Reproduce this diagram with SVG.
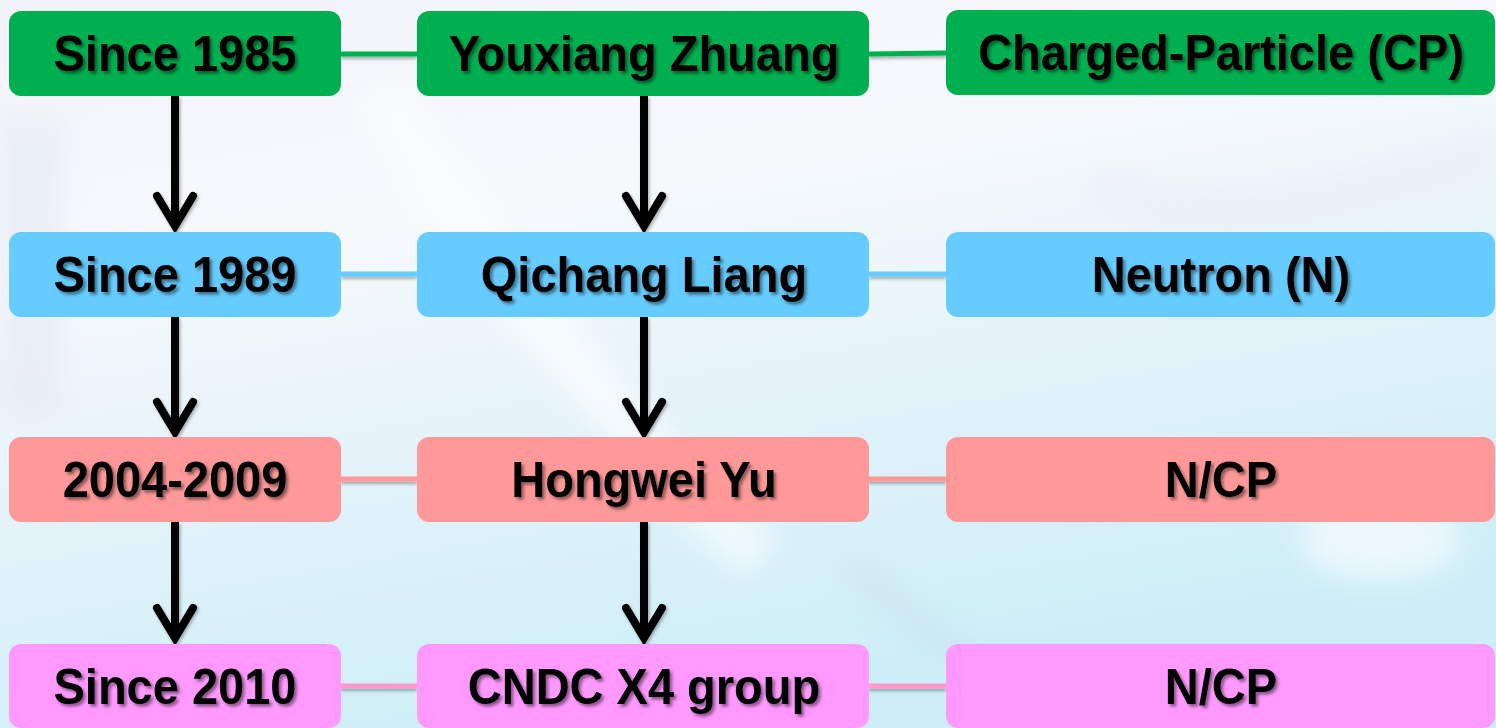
<svg xmlns="http://www.w3.org/2000/svg" width="1496" height="728" viewBox="0 0 1496 728">
<defs>
<linearGradient id="bg" x1="0" y1="0" x2="0.35" y2="1">
<stop offset="0" stop-color="#f1f3f9"/>
<stop offset="0.35" stop-color="#f6f9fc"/>
<stop offset="0.7" stop-color="#e0f2f9"/>
<stop offset="1" stop-color="#cdeef7"/>
</linearGradient>
<filter id="blur" x="-20%" y="-20%" width="140%" height="140%"><feGaussianBlur stdDeviation="14"/></filter>
<filter id="tsh" x="-10%" y="-20%" width="120%" height="150%"><feDropShadow dx="2.5" dy="2.5" stdDeviation="1.6" flood-color="#000" flood-opacity="0.45"/></filter>
<filter id="lsh" filterUnits="userSpaceOnUse" x="0" y="0" width="1496" height="728"><feDropShadow dx="0" dy="2.5" stdDeviation="1.5" flood-color="#000" flood-opacity="0.3"/></filter>
<filter id="ash" filterUnits="userSpaceOnUse" x="0" y="0" width="1496" height="728"><feDropShadow dx="1.5" dy="2" stdDeviation="1.5" flood-color="#000" flood-opacity="0.3"/></filter>
<marker id="chev" viewBox="0 0 40 44" refX="36" refY="22" markerWidth="40" markerHeight="44" markerUnits="userSpaceOnUse" orient="auto" overflow="visible">
<path d="M6,4 L36,22 L6,40" fill="none" stroke="#000" stroke-width="8" stroke-linecap="round" stroke-linejoin="miter" stroke-miterlimit="10"/>
</marker>
</defs>
<style>
.t{font-family:"Liberation Sans",Arial,sans-serif;font-weight:bold;font-size:47px;fill:#000;text-anchor:middle;filter:url(#tsh)}
.g{fill:#00B050}.b{fill:#66CCFF}.r{fill:#FF9999}.p{fill:#FF99FF}
.c{stroke-width:5;fill:none;filter:url(#lsh)}
.ar{stroke:#000;stroke-width:8;fill:none;filter:url(#ash)}
</style>
<rect width="1496" height="728" fill="url(#bg)"/>
<g opacity="0.6" filter="url(#blur)">
<path d="M380,90 Q520,330 760,560" stroke="#ffffff" stroke-width="50" fill="none"/>
<path d="M850,560 Q980,700 1120,700" stroke="#c9dceb" stroke-width="18" fill="none"/>
<path d="M1100,180 Q1200,260 1496,150" stroke="#e6ebf4" stroke-width="30" fill="none"/>
<ellipse cx="1380" cy="540" rx="80" ry="40" fill="#ffffff"/>
<path d="M30,120 L30,420" stroke="#e3e7f3" stroke-width="60" fill="none"/>
</g>

<g id="connectors">
<line class="c" x1="341" y1="54" x2="417" y2="54" stroke="#00B050"/>
<line class="c" x1="869" y1="54" x2="946" y2="53" stroke="#00B050"/>
<line class="c" x1="341" y1="274" x2="417" y2="274" stroke="#66CCFF"/>
<line class="c" x1="869" y1="274" x2="946" y2="274" stroke="#66CCFF"/>
<line class="c" x1="341" y1="479" x2="417" y2="479" stroke="#FF9999"/>
<line class="c" x1="869" y1="479" x2="946" y2="479" stroke="#FF9999"/>
<line class="c" x1="341" y1="686" x2="417" y2="686" stroke="#FF99CC"/>
<line class="c" x1="869" y1="686" x2="946" y2="686" stroke="#FF99CC"/>
<line class="ar" x1="175" y1="96" x2="175" y2="226" marker-end="url(#chev)"/>
<line class="ar" x1="644" y1="96" x2="644" y2="226" marker-end="url(#chev)"/>
<line class="ar" x1="175" y1="317" x2="175" y2="432" marker-end="url(#chev)"/>
<line class="ar" x1="644" y1="317" x2="644" y2="432" marker-end="url(#chev)"/>
<line class="ar" x1="175" y1="522" x2="175" y2="638" marker-end="url(#chev)"/>
<line class="ar" x1="644" y1="522" x2="644" y2="638" marker-end="url(#chev)"/>
</g>

<g id="n-since1985"><rect class="g" x="9" y="11" width="332" height="85" rx="12"/><text class="t" x="175" y="71" transform="translate(0,71) scale(1,1.06) translate(0,-71)">Since 1985</text></g>
<g id="n-zhuang"><rect class="g" x="417" y="11" width="452" height="85" rx="12"/><text class="t" x="644" y="71" transform="translate(0,71) scale(1,1.06) translate(0,-71)">Youxiang Zhuang</text></g>
<g id="n-cp"><rect class="g" x="946" y="10" width="549" height="85" rx="12"/><text class="t" x="1221" y="70" transform="translate(0,70) scale(1,1.06) translate(0,-70)">Charged-Particle (CP)</text></g>

<g id="n-since1989"><rect class="b" x="9" y="232" width="332" height="85" rx="12"/><text class="t" x="175" y="292" transform="translate(0,292) scale(1,1.06) translate(0,-292)">Since 1989</text></g>
<g id="n-liang"><rect class="b" x="417" y="232" width="452" height="85" rx="12"/><text class="t" x="644" y="292" transform="translate(0,292) scale(1,1.06) translate(0,-292)">Qichang Liang</text></g>
<g id="n-neutron"><rect class="b" x="946" y="232" width="549" height="85" rx="12"/><text class="t" x="1221" y="292" transform="translate(0,292) scale(1,1.06) translate(0,-292)">Neutron (N)</text></g>

<g id="n-2004"><rect class="r" x="9" y="437" width="332" height="85" rx="12"/><text class="t" x="175" y="497" transform="translate(0,497) scale(1,1.06) translate(0,-497)">2004-2009</text></g>
<g id="n-yu"><rect class="r" x="417" y="437" width="452" height="85" rx="12"/><text class="t" x="644" y="497" transform="translate(0,497) scale(1,1.06) translate(0,-497)">Hongwei Yu</text></g>
<g id="n-ncp1"><rect class="r" x="946" y="437" width="549" height="85" rx="12"/><text class="t" x="1221" y="497" transform="translate(0,497) scale(1,1.06) translate(0,-497)">N/CP</text></g>

<g id="n-since2010"><rect class="p" x="9" y="644" width="332" height="84" rx="12"/><text class="t" x="175" y="704" transform="translate(0,704) scale(1,1.06) translate(0,-704)">Since 2010</text></g>
<g id="n-cndc"><rect class="p" x="417" y="644" width="452" height="84" rx="12"/><text class="t" x="644" y="704" transform="translate(0,704) scale(1,1.06) translate(0,-704)">CNDC X4 group</text></g>
<g id="n-ncp2"><rect class="p" x="946" y="644" width="549" height="84" rx="12"/><text class="t" x="1221" y="704" transform="translate(0,704) scale(1,1.06) translate(0,-704)">N/CP</text></g>
</svg>
